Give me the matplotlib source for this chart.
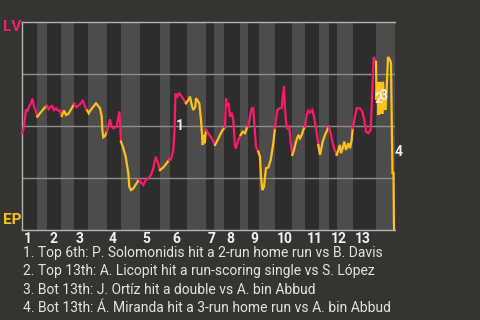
import matplotlib
matplotlib.use('Agg')
import matplotlib.pyplot as plt
from matplotlib.transforms import offset_copy
import bisect

plt.rcParams['font.family'] = ['Roboto', 'DejaVu Sans']

away_team = 'LV'
home_team = 'EP'
inning_labels = [str(i) for i in range(1, 14)]

# play index where each half inning starts (top 1st ... bot 13th), last value = end of game
half_starts = [0, 7.5, 12.5, 19.5, 26, 33, 42.5, 49.5, 59, 69, 74, 82.5, 92, 96,
               101, 109, 113, 118.5, 126.5, 135, 141.5, 148.5, 153.5, 157.5,
               165.5, 177, 186.5]

# win probability for the away team after each play
play_x = [0, 1, 2, 2.65, 3.65, 4.35, 5.15, 6, 7, 7.65, 9, 10.35, 11.5, 12.35,
          13.35, 14.35, 15.15, 16, 17, 18, 19, 19.85, 21, 22, 23.15, 24.35,
          25.35, 26, 27.35, 28.5, 29.65, 30.35, 31.5, 32.65, 33.35, 34.35,
          35.65, 37, 38.15, 39, 39.85, 40.15, 40.65, 41.5, 42.35, 43.15, 44,
          44.85, 45.65, 47.35, 48.15, 48.65, 49.15, 49.5, 50.65, 51.85, 53.15,
          53.65, 54.5, 55.65, 57.35, 58.5, 59.85, 60.65, 61.85, 63.15, 64.5,
          65.65, 66.85, 67.85, 69, 70.65, 72.35, 73.5, 74.5, 75.65, 76.25,
          76.75, 77.75, 78.65, 79.85, 81, 82, 83.15, 84, 84.85, 85.65, 86.65,
          87, 87.65, 88.65, 89.5, 89.85, 90.35, 91, 91.35, 92, 93.15, 94.85,
          96.5, 97.85, 99, 100.35, 101.5, 102, 102.65, 103.35, 104, 104.85,
          105.65, 106.5, 107, 108.15, 109.35, 110.35, 111.5, 112.35, 113.15,
          114, 114.85, 115.65, 116, 117, 118.15, 119, 119.5, 120.15, 121,
          121.5, 122, 123.15, 124.35, 125.65, 126.5, 127.65, 128.65, 129.85,
          130.35, 131, 131.35, 132, 132.65, 133.65, 134.35, 135.15, 136, 137,
          138.15, 139, 139.85, 140.65, 141.5, 142.35, 143.15, 144, 145.15, 146,
          147, 148.15, 149, 150.35, 151.5, 152.65, 153.35, 154.35, 155.35,
          156.35, 157.35, 158.15, 159, 159.5, 160.35, 161.15, 162, 163.15, 164,
          164.85, 165.35, 166.5, 167.35, 169, 170.15, 171.15, 172, 173.15,
          174.35, 174.85, 175.35, 175.85, 177, 177.25, 177.75, 178.25, 178.75,
          179.25, 179.5, 180.35, 180.5, 181, 181.75, 182.25, 183, 184, 184.5,
          184.85, 185.25, 185.75, 186]
win_prob = [0.465, 0.497, 0.58, 0.569, 0.596, 0.606, 0.633, 0.596, 0.569, 0.545,
            0.561, 0.577, 0.59, 0.596, 0.58, 0.593, 0.596, 0.577, 0.585, 0.574,
            0.574, 0.548, 0.574, 0.553, 0.558, 0.577, 0.593, 0.606, 0.59, 0.601,
            0.612, 0.625, 0.593, 0.574, 0.561, 0.577, 0.593, 0.609, 0.596,
            0.585, 0.545, 0.481, 0.446, 0.452, 0.473, 0.497, 0.532, 0.497,
            0.489, 0.497, 0.545, 0.569, 0.497, 0.425, 0.393, 0.352, 0.273,
            0.208, 0.192, 0.2, 0.225, 0.244, 0.225, 0.216, 0.24, 0.249, 0.264,
            0.297, 0.352, 0.328, 0.288, 0.301, 0.321, 0.337, 0.34, 0.385, 0.481,
            0.657, 0.641, 0.657, 0.641, 0.625, 0.609, 0.625, 0.641, 0.601,
            0.577, 0.593, 0.633, 0.625, 0.609, 0.529, 0.481, 0.409, 0.457,
            0.417, 0.481, 0.465, 0.441, 0.409, 0.433, 0.457, 0.481, 0.492,
            0.633, 0.593, 0.609, 0.545, 0.564, 0.529, 0.4, 0.393, 0.433, 0.457,
            0.473, 0.465, 0.489, 0.497, 0.545, 0.585, 0.585, 0.529, 0.4, 0.376,
            0.352, 0.256, 0.192, 0.208, 0.256, 0.297, 0.301, 0.337, 0.417,
            0.489, 0.577, 0.585, 0.585, 0.641, 0.692, 0.617, 0.513, 0.489,
            0.497, 0.417, 0.361, 0.385, 0.425, 0.457, 0.441, 0.457, 0.481,
            0.497, 0.553, 0.577, 0.564, 0.577, 0.545, 0.489, 0.409, 0.361,
            0.425, 0.457, 0.481, 0.497, 0.465, 0.417, 0.385, 0.361, 0.385,
            0.409, 0.369, 0.393, 0.425, 0.385, 0.417, 0.393, 0.433, 0.489,
            0.545, 0.585, 0.585, 0.569, 0.529, 0.473, 0.465, 0.481, 0.593,
            0.713, 0.832, 0.808, 0.625, 0.712, 0.553, 0.601, 0.712, 0.563,
            0.563, 0.712, 0.601, 0.577, 0.663, 0.832, 0.817, 0.803, 0.538,
            0.274, 0.274, 0.005]

event_x = [79, 178.15, 181, 188.5]
event_p = [0.5, 0.63, 0.644, 0.377]
event_text = [
    '1. Top 6th: P. Solomonidis hit a 2-run home run vs B. Davis',
    '2. Top 13th: A. Licopit hit a run-scoring single vs S. López',
    '3. Bot 13th: J. Ortíz hit a double vs A. bin Abbud',
    '4. Bot 13th: Á. Miranda hit a 3-run home run vs A. bin Abbud',
]

bg = '#363431'
dark = '#2f2d2b'
light = '#4e4c4a'
pink = '#ff1a6c'
yellow = '#ffc21a'

fig = plt.figure(figsize=(4.8, 3.2), dpi=100, facecolor=bg)
ax = fig.add_axes([22 / 480, 90 / 320, 373 / 480, 208 / 320])
ax.set_facecolor(bg)

for i in range(len(half_starts) - 1):
    ax.axvspan(half_starts[i], half_starts[i + 1], color=dark if i % 2 == 0 else light, lw=0, zorder=0)
for g in (0.25, 0.5, 0.75):
    ax.axhline(g, color='#8e8e8e', lw=1, zorder=1)

ax.set_xlim(0, half_starts[-1])
ax.set_ylim(0, 1)
ax.set_xticks([])
ax.set_yticks([])
for side in ('left', 'bottom', 'top'):
    ax.spines[side].set_color('#b4b4b4')
    ax.spines[side].set_linewidth(1)
ax.spines['right'].set_visible(False)

# colour each stretch by the half inning it belongs to
groups = []
for i in range(len(play_x) - 1):
    mid = (play_x[i] + play_x[i + 1]) / 2
    half = bisect.bisect_right(half_starts, mid) - 1
    col = pink if half % 2 == 0 else yellow
    if groups and groups[-1][0] == col:
        groups[-1][1].append(i + 1)
    else:
        groups.append([col, [i, i + 1]])
for col, idx in groups:
    ax.plot([play_x[j] for j in idx], [win_prob[j] for j in idx], color=col, lw=1.6,
            solid_joinstyle='miter', zorder=3, clip_on=False)

for n, (ex, ep) in enumerate(zip(event_x, event_p)):
    ax.text(ex, ep, str(n + 1), color='#eeeeee', fontsize=10, fontweight='bold',
            ha='center', va='center', zorder=4, clip_on=False)

tick_tr = offset_copy(ax.transData, fig=fig, x=2, y=-2, units='dots')
for i, lab in enumerate(inning_labels):
    ax.text(half_starts[2 * i], 0, lab, transform=tick_tr, color='#f2f2f2', fontsize=10,
            fontweight='bold', ha='left', va='top')

fig.text(3 / 480, 1 - 27 / 320, away_team, color=pink, fontsize=11, fontweight='bold', va='center')
fig.text(3 / 480, 1 - 220 / 320, home_team, color=yellow, fontsize=11, fontweight='bold', va='center')

for k, line in enumerate(event_text):
    fig.text(23 / 480, 1 - (257.5 + 18 * k) / 320, line, color='#e4e4e4', fontsize=10, va='baseline')

fig.savefig('out.png', dpi=100, facecolor=bg)
